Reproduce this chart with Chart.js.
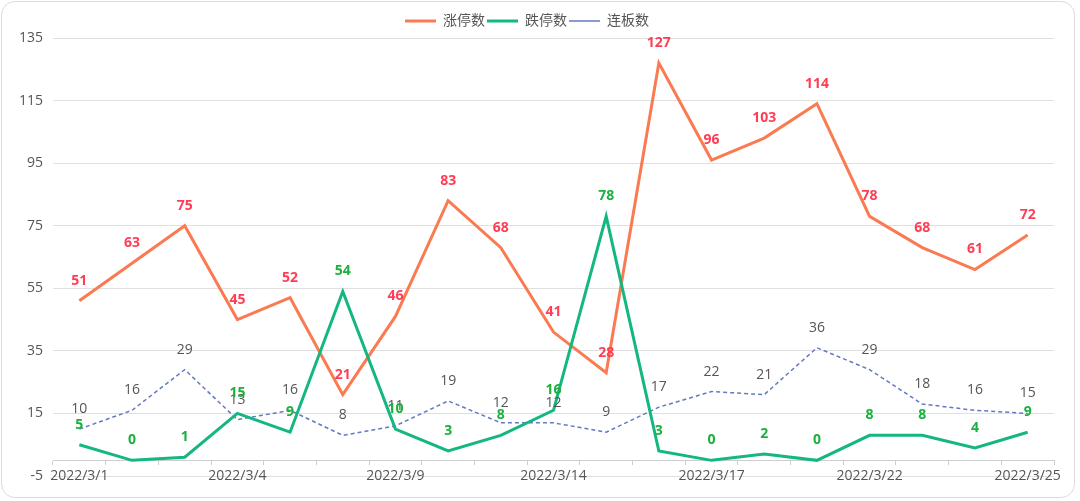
<!DOCTYPE html>
<html>
<head>
<meta charset="utf-8">
<script src="https://cdn.jsdelivr.net/npm/chart.js@4"></script>
<style>
  body { margin: 0; background: #fff; }
  #card { position: absolute; left: 1px; top: 1px; width: 1074px; height: 497px; box-sizing: border-box;
          border: 1px solid #dcdcdc; border-radius: 14px; }
  #wrap { position: absolute; left: 0; top: 0; width: 1080px; height: 501px; }
</style>
</head>
<body>
<div id="card"></div>
<div id="wrap"><canvas id="chart" width="1080" height="501"></canvas></div>
<script>
// trading days
const days = ['2022/3/1', '2022/3/2', '2022/3/3', '2022/3/4', '2022/3/7', '2022/3/8', '2022/3/9',
  '2022/3/10', '2022/3/11', '2022/3/14', '2022/3/15', '2022/3/16', '2022/3/17', '2022/3/18',
  '2022/3/21', '2022/3/22', '2022/3/23', '2022/3/24', '2022/3/25'];
const limitUp = [51, 63, 75, 45, 52, 21, 46, 83, 68, 41, 28, 127, 96, 103, 114, 78, 68, 61, 72];
const limitDown = [5, 0, 1, 15, 9, 54, 10, 3, 8, 16, 78, 3, 0, 2, 0, 8, 8, 4, 9];
const streak = [10, 16, 29, 13, 16, 8, 11, 19, 12, 12, 9, 17, 22, 21, 36, 29, 18, 16, 15];
const yTicks = [-5, 15, 35, 55, 75, 95, 115, 135];
const shownDays = ['2022/3/1', '2022/3/4', '2022/3/9', '2022/3/14', '2022/3/17', '2022/3/22', '2022/3/25'];

const FONT = "'Open Sans', 'Noto Sans CJK SC', sans-serif";

// value labels above each point
const valueLabels = {
  id: 'valueLabels',
  afterDatasetsDraw(chart) {
    const ctx = chart.ctx;
    const drawOrder = [2, 0, 1];
    ctx.save();
    ctx.textAlign = 'center';
    ctx.textBaseline = 'middle';
    drawOrder.forEach(i => {
      const ds = chart.data.datasets[i];
      const meta = chart.getDatasetMeta(i);
      ctx.fillStyle = ds.labelColor;
      ctx.font = (ds.labelBold ? 'bold ' : '') + '14px ' + FONT;
      meta.data.forEach((pt, j) => {
        ctx.fillText(String(ds.data[j]), pt.x, pt.y - 20);
      });
    });
    ctx.restore();
  }
};

new Chart(document.getElementById('chart'), {
  type: 'line',
  data: {
    labels: days,
    datasets: [
      {
        label: '涨停数', data: limitUp, borderColor: '#fa7a52', backgroundColor: '#fa7a52',
        borderWidth: 3, pointRadius: 0, pointStyle: 'line', order: 1,
        labelColor: '#ff3d55', labelBold: true
      },
      {
        label: '跌停数', data: limitDown, borderColor: '#14b77f', backgroundColor: '#14b77f',
        borderWidth: 3, pointRadius: 0, pointStyle: 'line', order: 0,
        labelColor: '#1cb03e', labelBold: true
      },
      {
        label: '连板数', data: streak, borderColor: '#6479c4', backgroundColor: '#6479c4',
        borderWidth: 1.5, borderDash: [4, 3], pointRadius: 0, pointStyle: 'line', order: 2,
        labelColor: '#555', labelBold: false
      }
    ]
  },
  options: {
    responsive: false,
    animation: false,
    layout: { padding: { left: 0, right: 26, top: 12, bottom: 25 } },
    plugins: {
      tooltip: { enabled: false },
      legend: {
        position: 'top',
        labels: {
          usePointStyle: true,
          pointStyleWidth: 31,
          padding: 2,
          color: '#555',
          font: { size: 14, family: FONT },
          sort: (a, b) => a.datasetIndex - b.datasetIndex
        }
      }
    },
    scales: {
      x: {
        position: { y: 0 },
        offset: true,
        grid: { drawOnChartArea: false, drawTicks: true, tickLength: 4, color: '#cfcfcf', offset: true },
        border: { color: '#cfcfcf' },
        ticks: {
          autoSkip: false, maxRotation: 0, padding: 3,
          color: '#555', font: { size: 14, family: FONT },
          callback: function (v) {
            const lab = this.getLabelForValue(v);
            return shownDays.includes(lab) ? lab : '';
          }
        }
      },
      y: {
        min: -5, max: 135,
        afterFit: s => { s.width = 53; },
        afterBuildTicks: s => { s.ticks = yTicks.map(v => ({ value: v })); },
        grid: { color: '#e0e0e0', drawTicks: false },
        border: { display: false },
        ticks: { padding: 10, color: '#555', font: { size: 14, family: FONT } }
      }
    }
  },
  plugins: [valueLabels]
});
</script>
</body>
</html>
